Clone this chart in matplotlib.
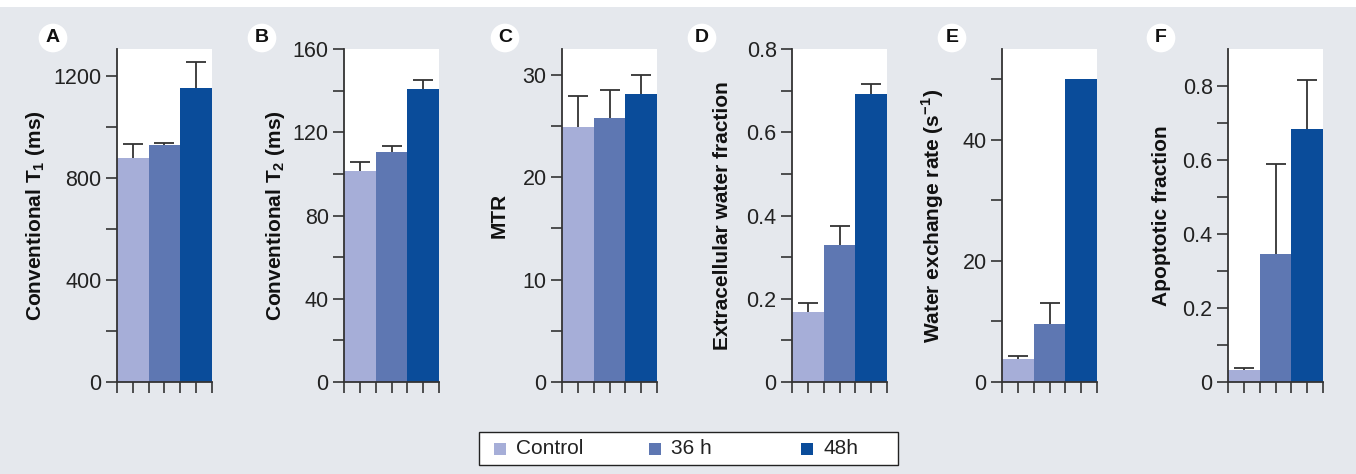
import numpy as np
import matplotlib
matplotlib.use("Agg")
import matplotlib.pyplot as plt
from matplotlib.patches import Rectangle

plt.rcParams['font.family'] = ['Liberation Sans', 'DejaVu Sans']
plt.rcParams['mathtext.fontset'] = 'custom'
plt.rcParams['mathtext.rm'] = 'Liberation Sans'
plt.rcParams['mathtext.bf'] = 'Liberation Sans:bold'

# data
groups = ['Control', '36 h', '48h']
colors = ['#a6aed8', '#5e77b2', '#0a4c9a']

t1 = [878, 930, 1153]
t1_err = [56, 5, 101]
t2 = [101.6, 110.6, 141]
t2_err = [4, 2.6, 4]
mtr = [24.9, 25.8, 28.1]
mtr_err = [3.0, 2.7, 1.9]
ecw = [0.168, 0.329, 0.693]
ecw_err = [0.022, 0.046, 0.024]
wer = [3.87, 9.6, 50.1]
wer_err = [0.5, 3.5, np.nan]
apo = [0.0325, 0.346, 0.683]
apo_err = [0.0065, 0.243, 0.134]

panels = [
    ('A', t1, t1_err, r'Conventional T$_{\mathbf{1}}$ (ms)', 1305, [0, 400, 800, 1200], [200, 600, 1000], ['0', '400', '800', '1200']),
    ('B', t2, t2_err, r'Conventional T$_{\mathbf{2}}$ (ms)', 160, [0, 40, 80, 120, 160], [20, 60, 100, 140], ['0', '40', '80', '120', '160']),
    ('C', mtr, mtr_err, 'MTR', 32.5, [0, 10, 20, 30], [5, 15, 25], ['0', '10', '20', '30']),
    ('D', ecw, ecw_err, 'Extracellular water fraction', 0.8, [0, 0.2, 0.4, 0.6, 0.8], [0.1, 0.3, 0.5, 0.7], ['0', '0.2', '0.4', '0.6', '0.8']),
    ('E', wer, wer_err, r'Water exchange rate (s$^{\mathregular{-1}}$)', 55, [0, 20, 40], [10, 30, 50], ['0', '20', '40']),
    ('F', apo, apo_err, 'Apoptotic fraction', 0.9, [0, 0.2, 0.4, 0.6, 0.8], [0.1, 0.3, 0.5, 0.7], ['0', '0.2', '0.4', '0.6', '0.8']),
]

W, H = 1356, 474
ax_left = [117, 344, 562, 792, 1002, 1228]
ax_w = 95
lab_right = [47, 287, 509, 732, 946, 1171]
letter_x = [53, 262, 505, 702, 952, 1161]

fig = plt.figure(figsize=(W / 100, H / 100), dpi=100)
fig.patch.set_facecolor('#e5e8ed')
fig.patches.append(Rectangle((0, 1 - 7 / H), 1, 7 / H, transform=fig.transFigure,
                             facecolor='white', edgecolor='none', zorder=0))

spine_c = '#333333'
bottom = 1 - 382 / H
height = (382 - 49) / H

for i, (letter, vals, errs, ylabel, ymax, majors, minors, labels) in enumerate(panels):
    ax = fig.add_axes([ax_left[i] / W, bottom, ax_w / W, height])
    x = np.arange(3)
    vals = np.array(vals)
    tops = vals + np.array(errs)
    ax.bar(x, vals, width=1.0, color=colors, edgecolor='none', zorder=2)
    # upper error bars only
    ax.vlines(x, vals, tops, color=spine_c, linewidth=1.3, zorder=3)
    ax.plot(x, tops, linestyle='none', marker='_', markersize=15, markeredgewidth=1.3,
            color=spine_c, zorder=3)
    ax.set_xlim(-0.5, 2.5)
    ax.set_ylim(0, ymax)
    ax.set_xticks(np.arange(-0.5, 2.6, 0.5))
    ax.set_xticklabels([])
    ax.set_yticks(majors)
    ax.set_yticklabels(labels)
    ax.set_yticks(minors, minor=True)
    ax.tick_params(axis='x', direction='out', length=8, width=1.2, color=spine_c)
    ax.tick_params(axis='y', which='both', direction='out', length=8, width=1.2,
                   color=spine_c, labelsize=15.5, labelcolor='#222222', pad=3)
    for s in ['top', 'right']:
        ax.spines[s].set_visible(False)
    for s in ['left', 'bottom']:
        ax.spines[s].set_color(spine_c)
        ax.spines[s].set_linewidth(1.3)
    ax.set_ylabel(ylabel, fontsize=15, fontweight='bold', color='#111111')
    ax.yaxis.set_label_coords((lab_right[i] - ax_left[i]) / ax_w, 0.5)
    fig.text(letter_x[i] / W, 1 - 38 / H, letter, fontsize=14, fontweight='bold',
             ha='center', va='center', color='#111111',
             bbox=dict(boxstyle='circle,pad=0.3', fc='white', ec='none'))

# legend box
fig.patches.append(Rectangle((479 / W, 1 - 465 / H), (898 - 479) / W, 33 / H,
                             transform=fig.transFigure, facecolor='white',
                             edgecolor='#222222', linewidth=1.0))
leg_marker_x = [500, 655, 807]
for name, c, mx in zip(groups, colors, leg_marker_x):
    fig.patches.append(Rectangle(((mx - 6) / W, 1 - 455 / H), 12 / W, 12 / H,
                                 transform=fig.transFigure, facecolor=c, edgecolor='none'))
    fig.text((mx + 16) / W, 1 - 449 / H, name, fontsize=15, ha='left', va='center',
             color='#222222')

fig.savefig('out.png', dpi=100, facecolor=fig.get_facecolor())
